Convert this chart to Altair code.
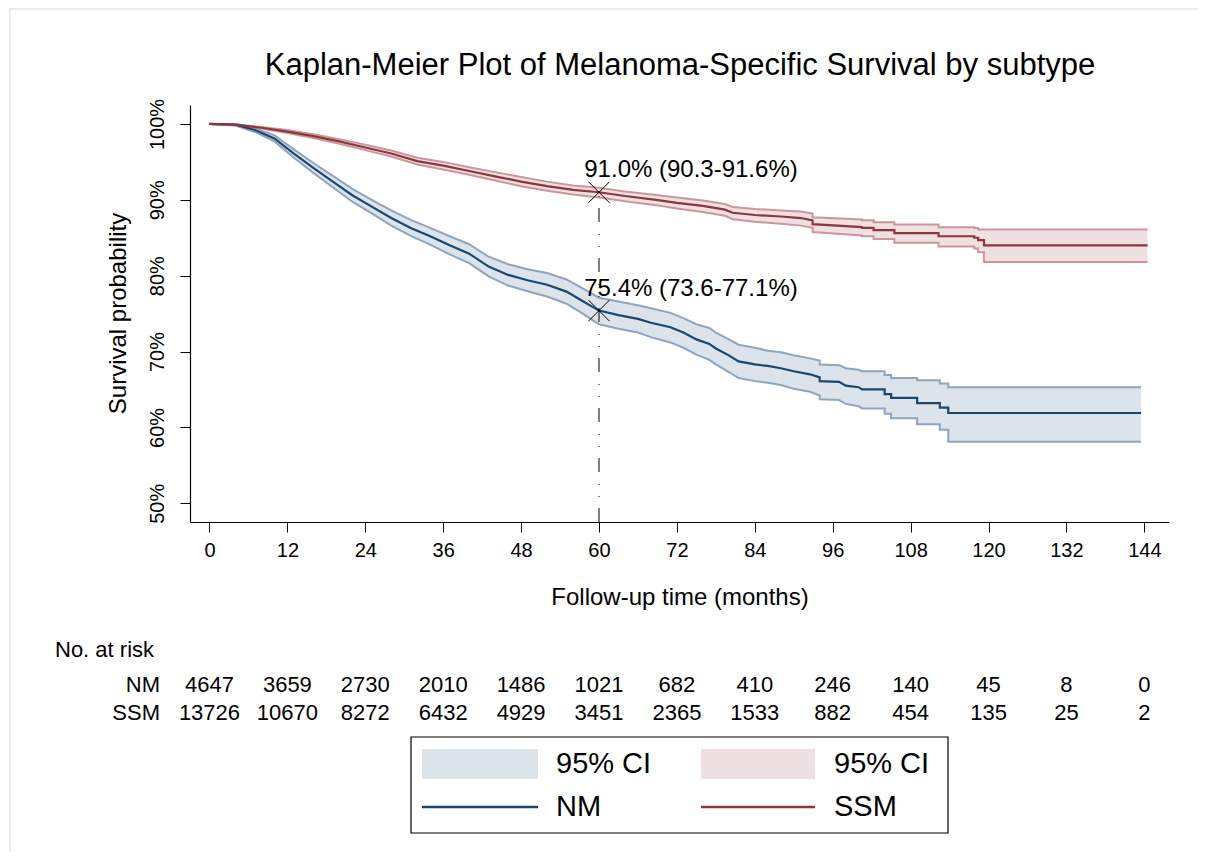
import altair as alt
import pandas as pd

FONT = "Liberation Sans"
TITLE = "Kaplan-Meier Plot of Melanoma-Specific Survival by subtype"

# ---- Kaplan-Meier estimates (months, %) ----
NM_T = [0, 4, 7, 10, 13, 16, 19, 22, 25, 28, 31, 34, 37, 40, 43, 46, 49, 52, 55, 57, 60,
        63, 66, 68, 71, 73, 75, 77, 78, 80, 81.5, 84, 86, 88, 90, 92.5, 94, 94, 97, 98, 100,
        100.5, 104, 104, 105, 105, 109, 109, 112.5, 112.5, 113.8, 113.8, 143.5]
NM_S = [100, 99.9, 99.2, 98.1, 96.1, 94.2, 92.4, 90.6, 89.1, 87.6, 86.3, 85.2, 84.0, 82.9, 81.2,
        80.1, 79.4, 78.8, 77.9, 76.9, 75.4,
        74.8, 74.3, 73.8, 73.2, 72.5, 71.6, 71.0, 70.4, 69.5, 68.7, 68.3, 68.1, 67.8, 67.4, 67.0,
        66.6, 66.1, 66.0, 65.5, 65.3, 65.0, 65.0, 64.4, 64.4, 63.9, 63.9, 63.2, 63.2, 62.6, 62.6,
        61.9, 61.9]
NM_HI = [100, 100, 99.45, 98.5, 96.65, 94.85, 93.15, 91.45, 90.0, 88.6, 87.35, 86.3, 85.2, 84.15,
         82.5, 81.5, 80.85, 80.35, 79.5, 78.55, 77.1,
         76.6, 76.1, 75.7, 75.1, 74.4, 73.6, 73.1, 72.5, 71.6, 70.9, 70.5, 70.1, 69.9, 69.5, 69.1,
         68.8, 68.3, 68.2, 67.8, 67.6, 67.4, 67.4, 66.9, 66.9, 66.5, 66.5, 66.2, 66.2, 65.8, 65.8,
         65.3, 65.3]
NM_LO = [100, 99.8, 98.95, 97.7, 95.55, 93.55, 91.65, 89.75, 88.2, 86.6, 85.25, 84.1, 82.8, 81.65,
         79.9, 78.7, 77.95, 77.25, 76.3, 75.25, 73.6,
         73.0, 72.5, 71.9, 71.2, 70.5, 69.6, 68.9, 68.3, 67.3, 66.5, 66.1, 65.9, 65.6, 65.1, 64.7,
         64.2, 63.7, 63.6, 63.1, 62.8, 62.5, 62.5, 61.8, 61.8, 61.2, 61.2, 60.4, 60.4, 59.7, 59.7,
         58.1, 58.1]

SSM_T = [0, 4, 8, 12, 16, 20, 24, 28, 32, 36, 40, 44, 48, 52, 56, 60,
         64, 68.8, 72, 76, 79.4, 80.6, 84, 88, 91.1, 92.9, 92.9, 100.5, 100.5, 102.3, 102.3,
         105.5, 105.5, 112.3, 112.3, 117.8, 117.8, 118.4, 118.4, 119.3, 119.3, 144.5]
SSM_S = [100, 99.9, 99.5, 99.0, 98.4, 97.7, 96.9, 96.1, 95.1, 94.5, 93.8, 93.1, 92.4, 91.8, 91.3, 91.0,
         90.5, 90.0, 89.6, 89.2, 88.7, 88.3, 88.0, 87.8, 87.6, 87.3, 86.8, 86.4, 86.3, 86.3, 86.0,
         86.0, 85.6, 85.6, 85.2, 85.2, 85.0, 85.0, 84.7, 84.7, 84.0, 84.0]
SSM_HI = [100, 99.95, 99.6, 99.2, 98.65, 98.0, 97.25, 96.5, 95.55, 95.0, 94.3, 93.65, 93.0, 92.4, 91.9, 91.6,
          91.1, 90.65, 90.3, 89.9, 89.45, 89.05, 88.8, 88.6, 88.45, 88.2, 87.7, 87.4, 87.3, 87.3, 87.05,
          87.05, 86.75, 86.75, 86.4, 86.4, 86.3, 86.3, 86.1, 86.1, 86.1, 86.1]
SSM_LO = [100, 99.85, 99.4, 98.8, 98.15, 97.4, 96.55, 95.7, 94.65, 94.0, 93.3, 92.55, 91.8, 91.2, 90.7, 90.3,
          89.8, 89.3, 88.85, 88.4, 87.9, 87.45, 87.1, 86.85, 86.6, 86.3, 85.75, 85.3, 85.2, 85.2, 84.85,
          84.85, 84.35, 84.35, 83.85, 83.85, 83.6, 83.6, 83.1, 83.1, 81.8, 81.8]

# ---- numbers at risk ----
RISK_T = [0, 12, 24, 36, 48, 60, 72, 84, 96, 108, 120, 132, 144]
NM_RISK = [4647, 3659, 2730, 2010, 1486, 1021, 682, 410, 246, 140, 45, 8, 0]
SSM_RISK = [13726, 10670, 8272, 6432, 4929, 3451, 2365, 1533, 882, 454, 135, 25, 2]

# ---- 5-year annotations ----
ANN_T = [60, 60]
ANN_S = [91.0, 75.4]
ANN_TEXT = ["91.0% (90.3-91.6%)", "75.4% (73.6-77.1%)"]

Y_TICKS = [50, 60, 70, 80, 90, 100]
LEGEND_LABELS = ["95% CI", "95% CI", "NM", "SSM"]
ROW_LABELS = ["No. at risk", "NM", "SSM"]

X_DOMAIN = [-3, 147.8]
Y_DOMAIN = [47.53, 102.5]

NAVY, MAROON = "#1a476f", "#90353b"
NAVY_FILL, MAROON_FILL = "#dce3eb", "#efe0e1"
NAVY_EDGE, MAROON_EDGE = "#8ea5bf", "#cc979c"

W, H = 979, 417


def km_frame(t, s, lo, hi):
    return pd.DataFrame({"t": t, "s": s, "lo": lo, "hi": hi, "idx": list(range(len(t)))})


nm = km_frame(NM_T, NM_S, NM_LO, NM_HI)
ssm = km_frame(SSM_T, SSM_S, SSM_LO, SSM_HI)

xs = alt.Scale(domain=X_DOMAIN, nice=False, zero=False)
ys = alt.Scale(domain=Y_DOMAIN, nice=False, zero=False)

x_axis = alt.Axis(values=RISK_T, title="Follow-up time (months)", tickSize=10, labelFontSize=20,
                  labelPadding=8, titleFontSize=24, titleY=82, titleBaseline="alphabetic",
                  labelFlush=False, domainWidth=1.2)
y_axis = alt.Axis(values=Y_TICKS, labelExpr="datum.value + '%'", title="Survival probability",
                  tickSize=10, labelFontSize=20, labelAngle=270, labelAlign="center",
                  labelBaseline="middle", labelPadding=23, titleFontSize=24, titleAngle=270,
                  titleX=-72, titleY=208, titleAlign="center", titleBaseline="middle",
                  domainWidth=1.2)

X = alt.X("t:Q", scale=xs, axis=x_axis)


def Yf(field):
    return alt.Y(field, type="quantitative", scale=ys, axis=y_axis)


def band(df, fill, edge):
    area = alt.Chart(df).mark_area(fill=fill, fillOpacity=1, stroke=None).encode(
        x=X, y=Yf("lo"), y2=alt.Y2("hi"))
    lo = alt.Chart(df).mark_line(color=edge, strokeWidth=2).encode(x=X, y=Yf("lo"), order="idx:Q")
    hi = alt.Chart(df).mark_line(color=edge, strokeWidth=2).encode(x=X, y=Yf("hi"), order="idx:Q")
    return [area, lo, hi]


def est(df, color):
    return alt.Chart(df).mark_line(color=color, strokeWidth=2.2).encode(x=X, y=Yf("s"), order="idx:Q")


ann = pd.DataFrame({"t": ANN_T, "s": ANN_S, "label": ANN_TEXT, "ymin": [Y_DOMAIN[0]] * 2})

rule = alt.Chart(ann.iloc[[0]]).mark_rule(color="black", strokeWidth=1,
                                           strokeDash=[14, 11, 1, 11, 1, 12]).encode(
    x=X, y=Yf("ymin"), y2="s:Q")
marks = alt.Chart(ann).mark_point(shape="M-1,-1L1,1M-1,1L1,-1", size=441, filled=False,
                                  color="black", strokeWidth=1, opacity=1).encode(x=X, y=Yf("s"))
labels = alt.Chart(ann).mark_text(font=FONT, fontSize=24, color="black", align="center",
                                  baseline="middle", dx=92, dy=-22).encode(x=X, y=Yf("s"), text="label:N")

risk = pd.DataFrame({"t": RISK_T, "nm": NM_RISK, "ssm": SSM_RISK})
risk_nm = alt.Chart(risk).mark_text(font=FONT, fontSize=22, color="black", align="center",
                                    baseline="middle").encode(x=X, y=alt.value(580), text="nm:Q")
risk_ssm = alt.Chart(risk).mark_text(font=FONT, fontSize=22, color="black", align="center",
                                     baseline="middle").encode(x=X, y=alt.value(608), text="ssm:Q")

one = pd.DataFrame({"k": [0]})
title = alt.Chart(pd.DataFrame({"lab": [TITLE]})).mark_text(
    font=FONT, fontSize=31, color="black", align="center", baseline="alphabetic").encode(
    x=alt.value(490), y=alt.value(-30), text="lab:N")
row_head = alt.Chart(pd.DataFrame({"lab": [ROW_LABELS[0]]})).mark_text(
    font=FONT, fontSize=22, color="black", align="left", baseline="middle").encode(
    x=alt.value(-135), y=alt.value(545), text="lab:N")
row_nm = alt.Chart(pd.DataFrame({"lab": [ROW_LABELS[1]]})).mark_text(
    font=FONT, fontSize=22, color="black", align="right", baseline="middle").encode(
    x=alt.value(-30), y=alt.value(580), text="lab:N")
row_ssm = alt.Chart(pd.DataFrame({"lab": [ROW_LABELS[2]]})).mark_text(
    font=FONT, fontSize=22, color="black", align="right", baseline="middle").encode(
    x=alt.value(-30), y=alt.value(608), text="lab:N")

# ---- legend box (Stata style) ----
leg_box = alt.Chart(one).mark_rect(fill="white", stroke="black", strokeWidth=1.2).encode(
    x=alt.value(221), x2=alt.value(758), y=alt.value(632), y2=alt.value(728))
sw_nm = alt.Chart(one).mark_rect(fill=NAVY_FILL).encode(
    x=alt.value(232), x2=alt.value(348), y=alt.value(644), y2=alt.value(674))
sw_ssm = alt.Chart(one).mark_rect(fill=MAROON_FILL).encode(
    x=alt.value(511), x2=alt.value(625), y=alt.value(644), y2=alt.value(674))
ln_nm = alt.Chart(one).mark_rule(color=NAVY, strokeWidth=2.5).encode(
    x=alt.value(232), x2=alt.value(348), y=alt.value(702))
ln_ssm = alt.Chart(one).mark_rule(color=MAROON, strokeWidth=2.5).encode(
    x=alt.value(511), x2=alt.value(625), y=alt.value(702))


def leg_text(i, x, y):
    return alt.Chart(pd.DataFrame({"lab": [LEGEND_LABELS[i]]})).mark_text(
        font=FONT, fontSize=29, color="black", align="left", baseline="middle").encode(
        x=alt.value(x), y=alt.value(y), text="lab:N")


frame = alt.Chart(one).mark_rect(fillOpacity=0, stroke="#e3e9ee", strokeWidth=1.5).encode(
    x=alt.value(-180), x2=alt.value(1010), y=alt.value(-96), y2=alt.value(900))

layers = [frame] + band(nm, NAVY_FILL, NAVY_EDGE) + band(ssm, MAROON_FILL, MAROON_EDGE) + [
    est(nm, NAVY), est(ssm, MAROON), rule, marks, labels, title,
    risk_nm, risk_ssm, row_head, row_nm, row_ssm,
    leg_box, sw_nm, sw_ssm, ln_nm, ln_ssm,
    leg_text(0, 366, 659), leg_text(1, 644, 659), leg_text(2, 366, 702), leg_text(3, 644, 702)]

chart = alt.layer(*layers).properties(
    width=W, height=H,
    autosize=alt.AutoSizeParams(type="none"),
    padding={"left": 182, "top": 97, "right": 29, "bottom": 330},
).configure_view(stroke=None).configure_axis(
    labelFont=FONT, titleFont=FONT, labelColor="black", titleColor="black",
    domainColor="black", tickColor="black", grid=False, titleFontWeight="normal")

chart.save("out.html", embed_options={"renderer": "svg", "actions": False})
